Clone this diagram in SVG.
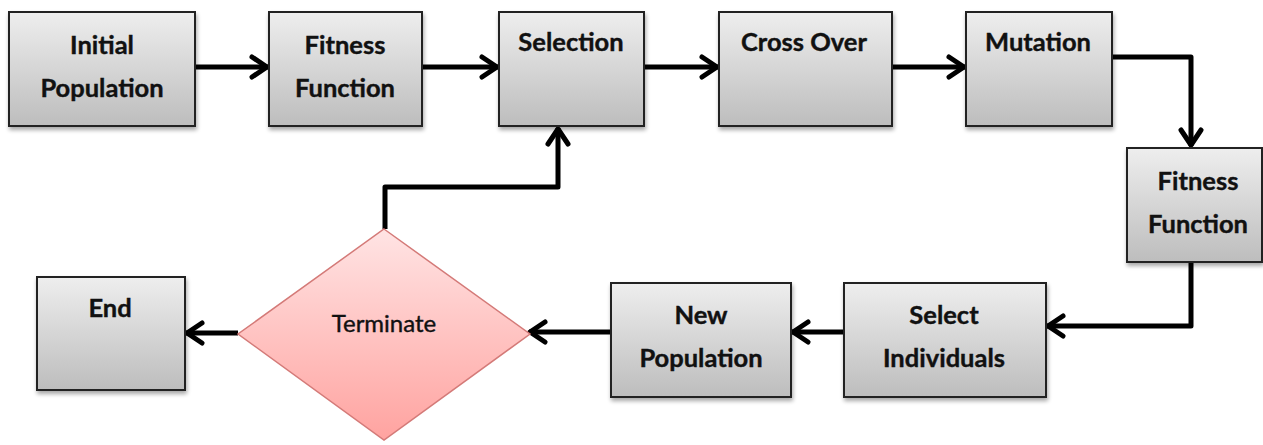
<svg xmlns="http://www.w3.org/2000/svg" width="1263" height="445" viewBox="0 0 1263 445">
<defs>
<linearGradient id="gbox" x1="0" y1="0" x2="0" y2="1">
<stop offset="0" stop-color="#eeeeee"/>
<stop offset="1" stop-color="#bdbdbd"/>
</linearGradient>
<linearGradient id="gdia" x1="0" y1="0" x2="0" y2="1">
<stop offset="0" stop-color="#ffe4e4"/>
<stop offset="1" stop-color="#ffa3a0"/>
</linearGradient>
<filter id="sh" x="-10%" y="-10%" width="130%" height="130%">
<feGaussianBlur in="SourceAlpha" stdDeviation="2"/>
<feOffset dx="1" dy="3"/>
<feComponentTransfer><feFuncA type="linear" slope="0.35"/></feComponentTransfer>
<feMerge><feMergeNode/><feMergeNode in="SourceGraphic"/></feMerge>
</filter>
<marker id="arr" markerUnits="userSpaceOnUse" viewBox="0 0 22 26" refX="20" refY="13" markerWidth="22" markerHeight="26" orient="auto">
<path d="M4,3 L19,13 L4,23" fill="none" stroke="#000" stroke-width="5" stroke-linecap="round" stroke-linejoin="round"/>
</marker>
</defs>
<style>
.box{fill:url(#gbox);stroke:#222;stroke-width:2;filter:url(#sh)}
.dia{fill:url(#gdia);stroke:#d47a78;stroke-width:1.5}
.t{font-family:Lato,"Open Sans",sans-serif;font-weight:bold;font-size:25.5px;fill:#111;stroke:#111;stroke-width:0.4;text-anchor:middle}
.td{font-family:Lato,"Open Sans",sans-serif;font-size:24px;fill:#111;stroke:#111;stroke-width:0.4;text-anchor:middle}
.c{fill:none;stroke:#000;stroke-width:5;stroke-linejoin:round;marker-end:url(#arr)}
</style>
<g id="connectors">
<path class="c" d="M195,67 L268,67"/>
<path class="c" d="M422,67 L498,67"/>
<path class="c" d="M644,67 L718,67"/>
<path class="c" d="M892,67 L965,67"/>
<path class="c" d="M1112,57 L1191,57 L1191,146"/>
<path class="c" d="M1191,262 L1191,326 L1047,326"/>
<path class="c" d="M844,332 L792,332"/>
<path class="c" d="M611,332 L529,332"/>
<path class="c" d="M238,333 L186,333"/>
<path class="c" d="M385,229 L385,187 L558,187 L558,128"/>
</g>
<g id="n-initial"><rect class="box" x="9" y="12" width="186" height="114"/><text class="t" x="102" y="54">Initial</text><text class="t" x="102" y="97">Population</text></g>
<g id="n-fitness1"><rect class="box" x="269" y="12" width="153" height="114"/><text class="t" x="345" y="54">Fitness</text><text class="t" x="345" y="97">Function</text></g>
<g id="n-selection"><rect class="box" x="499" y="12" width="145" height="114"/><text class="t" x="571" y="51">Selection</text></g>
<g id="n-crossover"><rect class="box" x="719" y="12" width="173" height="114"/><text class="t" x="804" y="51">Cross Over</text></g>
<g id="n-mutation"><rect class="box" x="966" y="12" width="146" height="114"/><text class="t" x="1038" y="51">Mutation</text></g>
<g id="n-fitness2"><rect class="box" x="1127" y="148" width="135" height="114"/><text class="t" x="1198" y="190">Fitness</text><text class="t" x="1198" y="233">Function</text></g>
<g id="n-select"><rect class="box" x="844" y="283" width="202" height="114"/><text class="t" x="944" y="324">Select</text><text class="t" x="944" y="367">Individuals</text></g>
<g id="n-newpop"><rect class="box" x="611" y="283" width="180" height="114"/><text class="t" x="701" y="324">New</text><text class="t" x="701" y="367">Population</text></g>
<g id="n-terminate"><polygon class="dia" points="384,229 530,334 384,440 238,334"/><text class="td" x="384" y="332">Terminate</text></g>
<g id="n-end"><rect class="box" x="37" y="277" width="148" height="113"/><text class="t" x="110" y="317">End</text></g>
</svg>
